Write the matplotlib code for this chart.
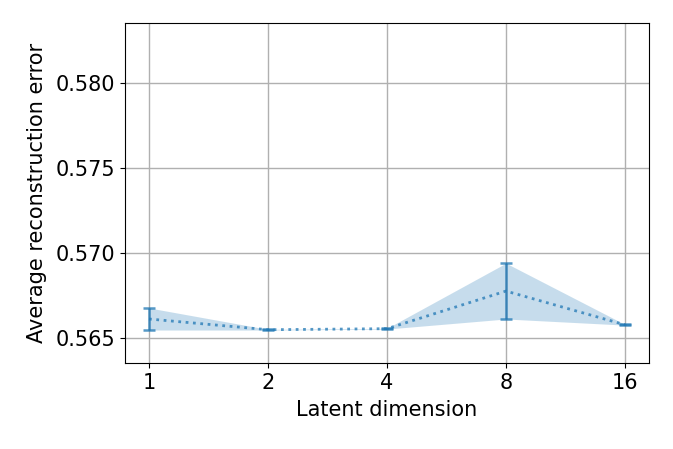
import matplotlib
matplotlib.use("Agg")
import matplotlib.pyplot as plt
import numpy as np

# Latent dimension vs. average reconstruction error
latent_dims = ["1", "2", "4", "8", "16"]
mean_error = [0.56613, 0.56550, 0.56556, 0.56777, 0.56579]
std_error = [0.00065, 0.00002, 0.00002, 0.00164, 0.00002]

x = np.arange(len(latent_dims))
mean_arr = np.array(mean_error)
std_arr = np.array(std_error)

fig = plt.figure(figsize=(6.73, 4.49), dpi=100)
ax = fig.add_axes([0.186, 0.191, 0.778, 0.757])

ax.fill_between(x, mean_arr - std_arr, mean_arr + std_arr, color="C0", alpha=0.25, linewidth=0)
ax.errorbar(x, mean_arr, yerr=std_arr, color="C0", alpha=0.75, linestyle=":", linewidth=2,
            capsize=4.5, elinewidth=1.8, capthick=1.8)

ax.set_xticks(x)
ax.set_xticklabels(latent_dims)
ax.set_yticks([0.565, 0.570, 0.575, 0.580])
ax.set_ylim(0.56353, 0.5835)
ax.set_xlim(-0.2, 4.2)
ax.grid(True, color="#b0b0b0", linewidth=1)
ax.set_axisbelow(True)
ax.tick_params(labelsize=15)
ax.set_xlabel("Latent dimension", fontsize=15, labelpad=5)
ax.set_ylabel("Average reconstruction error", fontsize=15, labelpad=6)

fig.savefig("out.png", dpi=100)
